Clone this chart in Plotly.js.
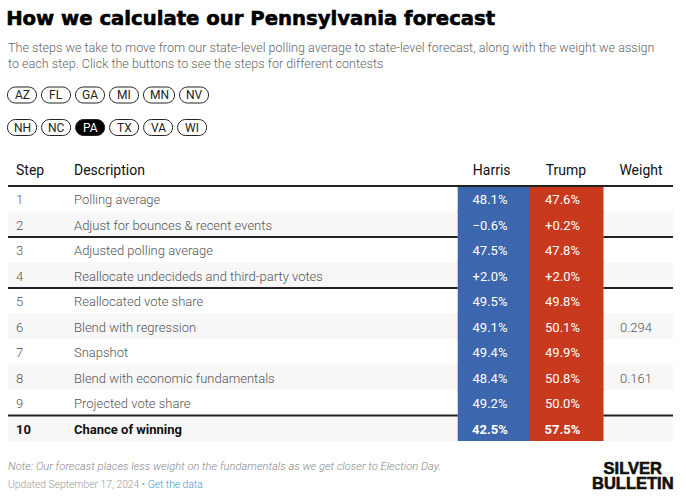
<!DOCTYPE html>
<html>
<head>
<meta charset="utf-8">
<script src="https://cdn.plot.ly/plotly-3.0.1.min.js"></script>
<style>
html,body{margin:0;padding:0;background:#fff;}
#chart{width:686px;height:500px;}
</style>
</head>
<body>
<div id="chart"></div>
<script>
// ---- data ----
var steps = ['1','2','3','4','5','6','7','8','9','10'];
var descriptions = [
  'Polling average',
  'Adjust for bounces & recent events',
  'Adjusted polling average',
  'Reallocate undecideds and third-party votes',
  'Reallocated vote share',
  'Blend with regression',
  'Snapshot',
  'Blend with economic fundamentals',
  'Projected vote share',
  'Chance of winning'
];
var harris = [48.1, -0.6, 47.5, 2.0, 49.5, 49.1, 49.4, 48.4, 49.2, 42.5];
var trump  = [47.6, 0.2, 47.8, 2.0, 49.8, 50.1, 49.9, 50.8, 50.0, 57.5];
var weights = [null, null, null, null, null, 0.294, null, 0.161, null, null];
var adjustmentSteps = ['2', '4'];
var groupEndSteps = ['2', '4', '9'];
var headers = ['Step', 'Description', 'Harris', 'Trump', 'Weight'];
var stateRow1 = ['AZ', 'FL', 'GA', 'MI', 'MN', 'NV'];
var stateRow2 = ['NH', 'NC', 'PA', 'TX', 'VA', 'WI'];
var selectedState = 'PA';

// ---- styling / geometry (pixels) ----
var W = 686, H = 500;
var BLUE = '#3c66ad', RED = '#c9391e', GRAY = '#f7f7f7';
var tableLeft = 8, tableRight = 673;
var tableW = tableRight - tableLeft;
var headerTop = 155, headerH = 31, rowH = 25.5;
var colorStart = 457.7 - tableLeft, colorMid = 530 - tableLeft, colorEnd = 603.5 - tableLeft;
// text anchor positions (table units = px from tableLeft)
var xStep = 8, xDesc = 66;
var xHarrisTxt = 482, xTrumpTxt = 554.5, xWeightTxt = 628;
var xHarrisHdr = 483.7, xTrumpHdr = 558, xWeightHdr = 633;
var textNudge = 2 / rowH; // optical vertical centring of text in a row
function px(x){ return x / W; }
function py(y){ return 1 - y / H; }

function fmt(v, step){
  var s = Math.abs(v).toFixed(1) + '%';
  if (adjustmentSteps.indexOf(step) >= 0) return (v < 0 ? '\u2212' : '+') + s;
  return (v < 0 ? '\u2212' : '') + s;
}
var last = steps.length - 1;
var rowIdx = steps.map(function(s, i){ return i; });
function boldLast(arr){ return arr.map(function(t,i){ return i === last ? '<b>' + t + '</b>' : t; }); }
function rep(v){ return steps.map(function(){ return v; }); }

var traces = [];
// zebra stripes
var stripeRows = rowIdx.filter(function(i){ return i % 2 === 1; });
traces.push({type: 'bar', orientation: 'h', y: stripeRows, x: stripeRows.map(function(){ return tableW; }), base: 0, width: 1,
  marker: {color: GRAY, line: {width: 0}}, hoverinfo: 'skip'});
// candidate columns
traces.push({type: 'bar', orientation: 'h', y: rowIdx, x: rep(colorMid - colorStart), base: colorStart, width: 1.04,
  marker: {color: BLUE, line: {width: 0}}, hoverinfo: 'skip'});
traces.push({type: 'bar', orientation: 'h', y: rowIdx, x: rep(colorEnd - colorMid), base: colorMid, width: 1.04,
  marker: {color: RED, line: {width: 0}}, hoverinfo: 'skip'});

function textTrace(x, y, texts, pos, color, size, weight){
  return {type: 'scatter', mode: 'text', x: y.map(function(){ return x; }), y: y.map(function(v){ return v + textNudge; }), text: texts, textposition: pos,
    cliponaxis: false, hoverinfo: 'skip',
    textfont: {family: 'Roboto, sans-serif', size: size, color: color, weight: weight}};
}
var grayTxt = rowIdx.map(function(i){ return i === last ? '#111111' : '#555555'; });
traces.push(textTrace(xStep, rowIdx, boldLast(steps), 'middle right', grayTxt, 13, 300));
traces.push(textTrace(xDesc, rowIdx, boldLast(descriptions), 'middle right', grayTxt, 13, 300));
traces.push(textTrace(xHarrisTxt, rowIdx, boldLast(harris.map(function(v,i){ return fmt(v, steps[i]); })), 'middle center', '#ffffff', 13, 400));
traces.push(textTrace(xTrumpTxt, rowIdx, boldLast(trump.map(function(v,i){ return fmt(v, steps[i]); })), 'middle center', '#ffffff', 13, 400));
var wRows = rowIdx.filter(function(i){ return weights[i] !== null; });
traces.push(textTrace(xWeightTxt, wRows, wRows.map(function(i){ return weights[i].toFixed(3); }), 'middle center', '#555555', 13, 300));

// header row (row units)
var headerY = -0.5 - (186 - 169.5) / rowH + textNudge;
var hdrX = [xStep, xDesc, xHarrisHdr, xTrumpHdr, xWeightHdr];
var hdrPos = ['middle right', 'middle right', 'middle center', 'middle center', 'middle center'];
traces.push({type: 'scatter', mode: 'text', x: hdrX, y: headers.map(function(){ return headerY; }), text: headers, textposition: hdrPos,
  cliponaxis: false, hoverinfo: 'skip', textfont: {family: 'Roboto, sans-serif', size: 14, color: '#111111'}});

// separator lines (y in row units)
var shapes = [];
shapes.push({type: 'line', xref: 'x', yref: 'y', x0: 0, x1: tableW, y0: -0.5, y1: -0.5, line: {color: '#222', width: 2}});
groupEndSteps.forEach(function(s){
  var y = steps.indexOf(s) + 0.5;
  shapes.push({type: 'line', xref: 'x', yref: 'y', x0: 0, x1: colorStart, y0: y, y1: y, line: {color: '#222', width: 2}});
  shapes.push({type: 'line', xref: 'x', yref: 'y', x0: colorEnd, x1: tableW, y0: y, y1: y, line: {color: '#222', width: 2}});
});

var annotations = [];
function ann(text, x, y, opts){
  var a = {text: text, xref: 'paper', yref: 'paper', x: px(x), y: py(y), xanchor: 'left', yanchor: 'middle', showarrow: false,
    font: {family: 'Roboto, sans-serif', size: 13, color: '#666'}};
  for (var k in opts) a[k] = opts[k];
  annotations.push(a);
}
ann('How we calculate our Pennsylvania forecast', 6, 18, {font: {family: 'DejaVu Sans, sans-serif', size: 19.5, color: '#000', weight: 700}});
ann('The steps we take to move from our state-level polling average to state-level forecast, along with the weight we assign', 6, 48, {font: {family: 'Roboto, sans-serif', size: 12.6, color: '#666', weight: 300}});
ann('to each step. Click the buttons to see the steps for different contests', 6, 63, {font: {family: 'Roboto, sans-serif', size: 12.6, color: '#666', weight: 300}});

// buttons
var canvas = document.createElement('canvas');
var ctx = canvas.getContext('2d');
ctx.font = '12px Roboto';
function pill(x0, x1, y0, y1, fill){
  var r = (y1 - y0) / 2, k = 0.5523 * r, ym = (y0 + y1) / 2;
  var P = function(x, y){ return px(x).toFixed(5) + ',' + py(y).toFixed(5); };
  var path = 'M' + P(x0 + r, y0) + ' L' + P(x1 - r, y0) +
    ' C' + P(x1 - r + k, y0) + ' ' + P(x1, ym - k) + ' ' + P(x1, ym) +
    ' C' + P(x1, ym + k) + ' ' + P(x1 - r + k, y1) + ' ' + P(x1 - r, y1) +
    ' L' + P(x0 + r, y1) +
    ' C' + P(x0 + r - k, y1) + ' ' + P(x0, ym + k) + ' ' + P(x0, ym) +
    ' C' + P(x0, ym - k) + ' ' + P(x0 + r - k, y0) + ' ' + P(x0 + r, y0) + ' Z';
  shapes.push({type: 'path', xref: 'paper', yref: 'paper', path: path, fillcolor: fill, line: {color: '#222', width: 1}});
}
function buttonRow(labels, y0, y1){
  var x = 7.5;
  labels.forEach(function(l){
    var w = Math.max(29, ctx.measureText(l).width + 12);
    var sel = l === selectedState;
    pill(x, x + w, y0, y1, sel ? '#000' : '#fff');
    annotations.push({text: l, xref: 'paper', yref: 'paper', x: px(x + w / 2), y: py((y0 + y1) / 2), xanchor: 'center', yanchor: 'middle', showarrow: false,
      font: {family: 'Roboto, sans-serif', size: 12, color: sel ? '#fff' : '#222'}});
    x += w + 5;
  });
}
buttonRow(stateRow1, 87, 103);
buttonRow(stateRow2, 119.5, 135.5);

// footer
ann('<i>Note: Our forecast places less weight on the fundamentals as we get closer to Election Day.</i>', 6, 466, {font: {family: 'Roboto, sans-serif', size: 11.2, color: '#888', weight: 300}});
ann('Updated September 17, 2024 \u2022 <span style="color:#3d96e0">Get the data</span>', 6, 484, {font: {family: 'Roboto, sans-serif', size: 10.3, color: '#999', weight: 300}});
// wordmark: one two-line text; line spacing tightened after render
var logoSize = 16.5, logoGap = 15.5;
annotations.push({text: '<b>SILVER</b><br><b>BULLETIN</b>', xref: 'paper', yref: 'paper', x: px(632.5),
  y: py(467.5 + 1.3 * logoSize / 2), xanchor: 'center', yanchor: 'middle', align: 'center', showarrow: false,
  font: {family: 'Liberation Sans, Arial, sans-serif', size: logoSize, color: '#111'}});

var layout = {
  width: W, height: H,
  margin: {l: 0, r: 0, t: 0, b: 0},
  paper_bgcolor: '#fff', plot_bgcolor: 'rgba(0,0,0,0)',
  showlegend: false,
  barmode: 'overlay',
  xaxis: {domain: [px(tableLeft), px(tableRight)], range: [0, tableW], visible: false, fixedrange: true},
  yaxis: {domain: [py(headerTop + headerH + rowH * steps.length), py(headerTop)],
          range: [steps.length - 0.5, -0.5 - headerH / rowH], visible: false, fixedrange: true},
  shapes: shapes,
  annotations: annotations
};
Plotly.newPlot('chart', traces, layout, {displayModeBar: false, staticPlot: true}).then(function(gd){
  // typographic touch: make the title and wordmark as heavy as the original
  gd.querySelectorAll('.annotation-text').forEach(function(el){
    var t = el.textContent;
    if (t.indexOf('How we calculate') === 0) {
      el.setAttribute('textLength', 489);
      el.setAttribute('lengthAdjust', 'spacingAndGlyphs');
      el.style.stroke = '#000'; el.style.strokeWidth = '0.6px';
    }
    if (t.indexOf('SILVER') === 0) {
      el.style.stroke = '#111'; el.style.strokeWidth = '0.6px';
      var lines = el.querySelectorAll('tspan.line');
      if (lines.length > 1) lines[1].setAttribute('dy', (logoGap / logoSize).toFixed(3) + 'em');
    }
  });
});
</script>
</body>
</html>
